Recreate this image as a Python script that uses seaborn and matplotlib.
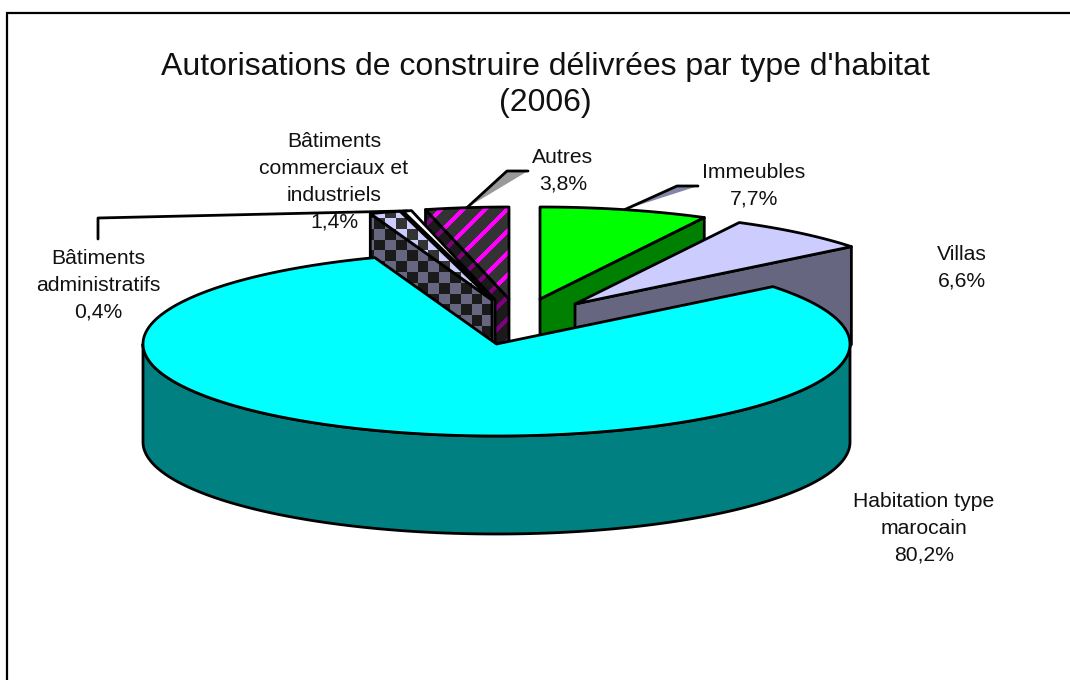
import numpy as np
import matplotlib
matplotlib.use('Agg')
import matplotlib.pyplot as plt
from matplotlib.patches import Polygon
import seaborn as sns

# data, clockwise from 12 o'clock
categories = ['Immeubles', 'Villas', 'Habitation type\nmarocain',
              'Bâtiments\ncommerciaux et\nindustriels', 'Bâtiments\nadministratifs', 'Autres']
values = [7.7, 6.6, 80.2, 1.4, 0.4, 3.8]
value_labels = ['7,7%', '6,6%', '80,2%', '1,4%', '0,4%', '3,8%']
title_text = "Autorisations de construire délivrées par type d'habitat\n(2006)"

# layout, all in pixels of the 1070x680 picture
cx, cy = 496.5, 344
rx, ry = 353.5, 92
depth = 98
explode_x = [43.5, 78.5, 0, -4.5, -1.5, 12.5]
explode_y = [-45, -40, 0, -44, -44, -45]
label_x = [754, 962, 924, 334, 98, 563]
label_y = [186, 267.5, 528.5, 182, 285.5, 170.5]
top_colors = sns.color_palette(['#00ff00', '#ccccff', '#00ffff', '#ccccff', '#ffffff', '#ff00ff'])
wall_colors = sns.color_palette(['#008000', '#666680', '#008080', '#666680', '#808080', '#800080'])

sns.set_theme(style='white')
plt.rcParams['font.family'] = ['Liberation Sans', 'DejaVu Sans']

fig = plt.figure(figsize=(10.7, 6.8), dpi=100)
ax = fig.add_axes([0, 0, 1, 1])
ax.axis('off')

edge_w = 2.0
xx, yy = np.meshgrid(np.arange(1070) + 0.5, np.arange(680) + 0.5)


def rim(angle, ox=0, oy=0):
    a = np.radians(angle)
    return np.column_stack([cx + ox + rx * np.cos(a), cy + oy - ry * np.sin(a)])


def checker(dark, light):
    cells = (np.floor((xx - 396) / 10.8) + np.floor((yy - 218) / 10.8)) % 2 == 0
    out = np.zeros(xx.shape + (3,))
    out[cells] = matplotlib.colors.to_rgb(dark)
    out[~cells] = matplotlib.colors.to_rgb(light)
    return out


def stripes(back, stripe):
    mask = ((xx + yy - 692) % 22) < 6
    out = np.zeros(xx.shape + (3,))
    out[mask] = matplotlib.colors.to_rgb(stripe)
    out[~mask] = matplotlib.colors.to_rgb(back)
    return out


def draw_poly(pts, color, z, pattern=None):
    if pattern is None:
        ax.add_patch(Polygon(pts, closed=True, facecolor=color, edgecolor='black',
                             linewidth=edge_w, joinstyle='round', zorder=z))
        return
    clip = Polygon(pts, closed=True, facecolor='none', edgecolor='none', transform=ax.transData)
    ax.add_patch(clip)
    im = ax.imshow(pattern, extent=(0, 1070, 680, 0), interpolation='nearest', aspect='auto', zorder=z)
    im.set_clip_path(clip)
    ax.add_patch(Polygon(pts, closed=True, facecolor='none', edgecolor='black',
                         linewidth=edge_w, joinstyle='round', zorder=z + 0.1))


# angles from the values
total = sum(values)
sweep = [v / total * 360 for v in values]
ends = 90 - np.cumsum(sweep)
starts = np.concatenate([[90], ends[:-1]])

top_patterns = {3: checker('#333333', '#ccccff'), 5: stripes('#333333', '#ff00ff')}
wall_patterns = {3: checker('#1a1a1a', '#666680'), 5: stripes('#1a1a1a', '#800080')}

z = 2
for i in [0, 1, 5, 4, 3, 2]:
    ox, oy = explode_x[i], explode_y[i]
    apex = np.array([[cx + ox, cy + oy]])
    arc = rim(np.linspace(starts[i], ends[i], 400), ox, oy)
    if i == 2:
        # only the big slice shows its round front
        front = rim(np.linspace(180, 360, 300))
        draw_poly(np.vstack([front, (front + [0, depth])[::-1]]), wall_colors[i], z)
    else:
        # cut face turned to the viewer
        a = ends[i] if i < 2 else starts[i]
        edge = np.vstack([apex, rim(a, ox, oy)])
        draw_poly(np.vstack([edge, (edge + [0, depth])[::-1]]), wall_colors[i], z, wall_patterns.get(i))
    z += 1
    draw_poly(np.vstack([apex, arc]), top_colors[i], z, top_patterns.get(i))
    z += 1

# leader lines
leaders = {0: ([677, 186], [698, 186], '#8585a6'), 5: ([507, 171], [528, 171], '#999999')}
for i, (elbow, end, col) in leaders.items():
    start = rim((starts[i] + ends[i]) / 2, explode_x[i], explode_y[i])[0]
    ax.add_patch(Polygon([start, elbow, end], closed=True, facecolor=col, edgecolor='none', zorder=20))
    ax.plot([start[0], elbow[0], end[0]], [start[1], elbow[1], end[1]], color='black', lw=edge_w, zorder=21)
start = rim((starts[4] + ends[4]) / 2, explode_x[4], explode_y[4])[0]
ax.plot([start[0], 98, 98], [start[1], 218, 239], color='black', lw=edge_w, zorder=21)

# labels and title
for i, name in enumerate(categories):
    ax.text(label_x[i], label_y[i], name + '\n' + value_labels[i], ha='center', va='center',
            fontsize=15.2, color='#111111', linespacing=1.52, zorder=30)
ax.text(545, 85, title_text, ha='center', va='center', fontsize=23, color='#111111',
        linespacing=1.29, zorder=30)

# chart frame, only top and left show in the crop
ax.plot([7, 7, 1070], [680, 13, 13], color='black', lw=1.6, zorder=40, solid_joinstyle='miter')

ax.set_xlim(0, 1070)
ax.set_ylim(680, 0)
fig.savefig('out.png', dpi=100, facecolor='white')
